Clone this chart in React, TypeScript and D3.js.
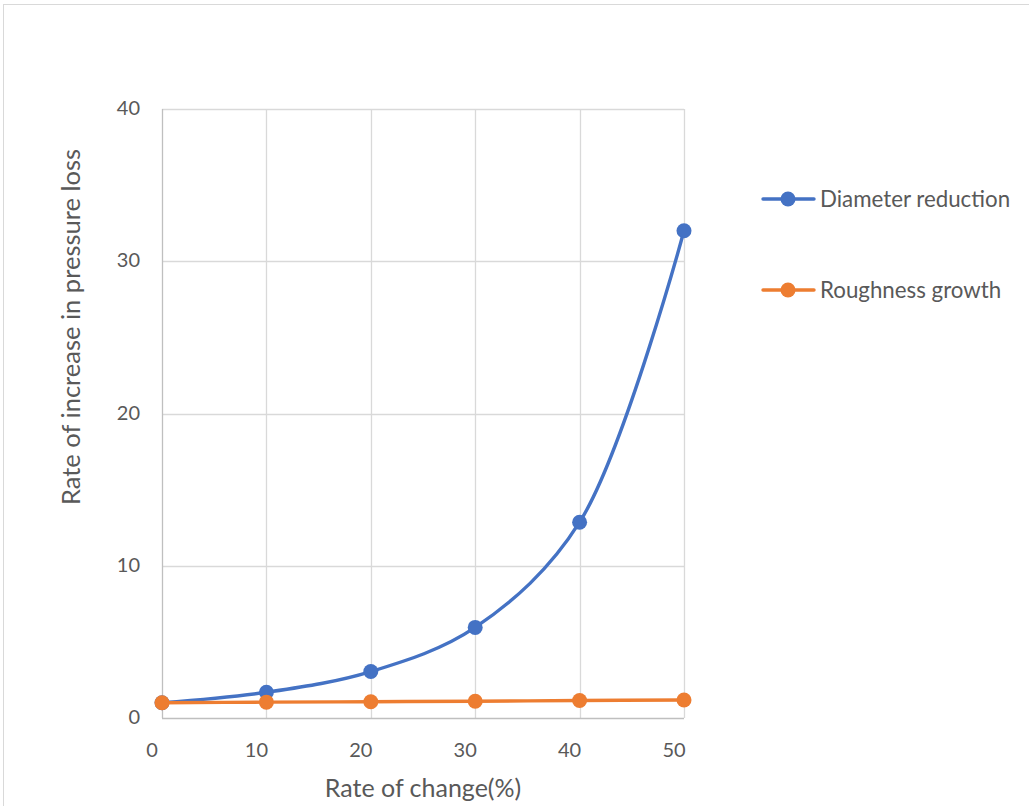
import React, { useEffect, useRef } from "react";
import * as d3 from "d3";

const xValues = [0, 10, 20, 30, 40, 50];
const diameterReduction = [1.0, 1.69, 3.05, 5.95, 12.86, 32.0];
const roughnessGrowth = [1.0, 1.04, 1.07, 1.1, 1.15, 1.18];
const xTicks = [0, 10, 20, 30, 40, 50];
const yTicks = [0, 10, 20, 30, 40];
const seriesNames = ["Diameter reduction", "Roughness growth"];
const seriesColors = ["#4472C4", "#ED7D31"];

const W = 1029;
const H = 806;
const FONT = "Lato, 'Open Sans', sans-serif";

export default function App() {
  const ref = useRef<SVGSVGElement>(null);

  useEffect(() => {
    const svg = d3.select(ref.current);
    svg.selectAll("*").remove();

    const x = d3.scaleLinear().domain([0, 50]).range([162, 684]);
    const y = d3.scaleLinear().domain([0, 40]).range([718, 109]);

    // chart area border
    svg
      .append("rect")
      .attr("x", 3.5)
      .attr("y", 4.5)
      .attr("width", W + 20)
      .attr("height", H + 20)
      .attr("fill", "#fff")
      .attr("stroke", "#d9d9d9")
      .attr("stroke-width", 1);

    const grid = svg.append("g");
    grid
      .selectAll("line.h")
      .data(yTicks.filter((t) => t > 0))
      .join("line")
      .attr("x1", x(0))
      .attr("x2", x(50))
      .attr("y1", (d) => Math.round(y(d)) + 0.5)
      .attr("y2", (d) => Math.round(y(d)) + 0.5)
      .attr("stroke", "#d9d9d9")
      .attr("stroke-width", 1.3);
    grid
      .selectAll("line.v")
      .data(xTicks.filter((t) => t > 0))
      .join("line")
      .attr("x1", (d) => Math.round(x(d)) + 0.5)
      .attr("x2", (d) => Math.round(x(d)) + 0.5)
      .attr("y1", y(40))
      .attr("y2", y(0))
      .attr("stroke", "#d9d9d9")
      .attr("stroke-width", 1.3);

    svg
      .append("line")
      .attr("x1", Math.round(x(0)) + 0.5)
      .attr("x2", Math.round(x(0)) + 0.5)
      .attr("y1", y(40))
      .attr("y2", y(0))
      .attr("stroke", "#bfbfbf")
      .attr("stroke-width", 1.3);
    svg
      .append("line")
      .attr("x1", x(0))
      .attr("x2", x(50))
      .attr("y1", Math.round(y(0)) + 0.5)
      .attr("y2", Math.round(y(0)) + 0.5)
      .attr("stroke", "#bfbfbf")
      .attr("stroke-width", 1.3);

    svg
      .append("g")
      .selectAll("text")
      .data(yTicks)
      .join("text")
      .attr("x", x(0) - 22)
      .attr("y", (d) => y(d) - 1)
      .attr("dy", "0.35em")
      .attr("text-anchor", "end")
      .attr("font-family", FONT)
      .attr("font-size", 20)
      .attr("fill", "#595959")
      .text((d) => String(d));

    svg
      .append("g")
      .selectAll("text")
      .data(xTicks)
      .join("text")
      .attr("x", (d) => x(d) - 10)
      .attr("y", 750)
      .attr("dy", "0.35em")
      .attr("text-anchor", "middle")
      .attr("font-family", FONT)
      .attr("font-size", 20)
      .attr("fill", "#595959")
      .text((d) => String(d));

    svg
      .append("text")
      .attr("x", (x(0) + x(50)) / 2)
      .attr("y", 788)
      .attr("dy", "0.35em")
      .attr("text-anchor", "middle")
      .attr("font-family", FONT)
      .attr("font-size", 25)
      .attr("fill", "#595959")
      .text("Rate of change(%)");

    svg
      .append("text")
      .attr("transform", "translate(71,327) rotate(-90)")
      .attr("dy", "0.35em")
      .attr("text-anchor", "middle")
      .attr("font-family", FONT)
      .attr("font-size", 25.5)
      .attr("fill", "#595959")
      .text("Rate of increase in pressure loss");

    const series = [diameterReduction, roughnessGrowth];
    const line = d3
      .line<number>()
      .x((_, i) => x(xValues[i]))
      .y((d) => y(d))
      .curve(d3.curveCatmullRom.alpha(0.5));

    series.forEach((vals, si) => {
      svg
        .append("path")
        .attr("d", line(vals))
        .attr("fill", "none")
        .attr("stroke", seriesColors[si])
        .attr("stroke-width", 3.4)
        .attr("stroke-linecap", "round");
      svg
        .append("g")
        .selectAll("circle")
        .data(vals)
        .join("circle")
        .attr("cx", (_, i) => x(xValues[i]))
        .attr("cy", (d) => y(d))
        .attr("r", 7.5)
        .attr("fill", seriesColors[si]);
    });

    const legendY = [199, 290];
    seriesNames.forEach((name, i) => {
      const g = svg.append("g");
      g.append("line")
        .attr("x1", 763)
        .attr("x2", 814)
        .attr("y1", legendY[i])
        .attr("y2", legendY[i])
        .attr("stroke", seriesColors[i])
        .attr("stroke-width", 3.4)
        .attr("stroke-linecap", "round");
      g.append("circle")
        .attr("cx", 788)
        .attr("cy", legendY[i])
        .attr("r", 7.5)
        .attr("fill", seriesColors[i]);
      g.append("text")
        .attr("x", 820)
        .attr("y", legendY[i])
        .attr("dy", "0.35em")
        .attr("font-family", FONT)
        .attr("font-size", 22.3)
        .attr("fill", "#595959")
        .text(name);
    });
  }, []);

  return (
    <svg
      ref={ref}
      width={W}
      height={H}
      style={{ position: "absolute", left: 0, top: 0, background: "#fff" }}
    />
  );
}
